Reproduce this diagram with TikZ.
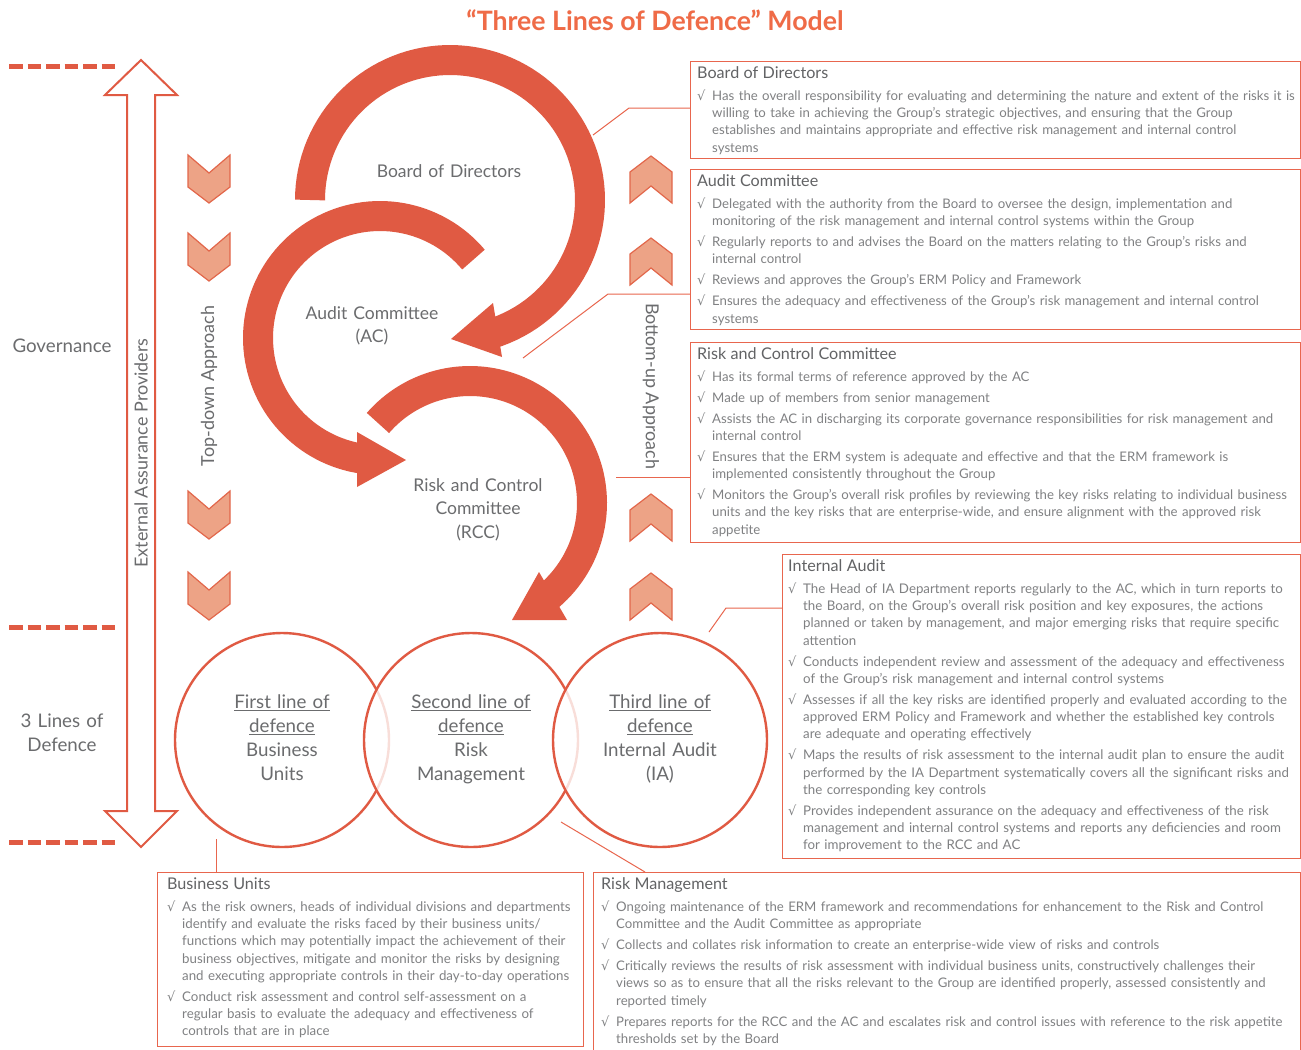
\documentclass[tikz,border=0pt]{standalone}
\usepackage{fontspec}
\setmainfont{Lato}
\newfontfamily\chkfont{DejaVu Sans}
\definecolor{arcred}{HTML}{E05A43}
\definecolor{boxred}{HTML}{E8664E}
\definecolor{chevfill}{HTML}{EDA386}
\definecolor{chevline}{HTML}{E2674B}
\definecolor{titlered}{HTML}{EF6B47}
\definecolor{labelgray}{HTML}{6B6C6E}
\definecolor{headgray}{HTML}{626365}
\definecolor{bodygray}{HTML}{808183}
\newcommand{\ckm}{\makebox[15bp][l]{\chkfont\fontsize{13}{10}\selectfont √}}
\newcommand{\indl}{\hspace*{15bp}}
\newcommand{\btl}[1]{{\fontsize{16.2}{17.35}\selectfont\color{headgray}#1}}
\newcommand{\chevdown}[1]{\draw[chev] (188,#1) -- (209,#1+18) -- (230,#1) -- (230,#1+32) -- (209,#1+48) -- (188,#1+32) -- cycle;}
\newcommand{\chevup}[1]{\draw[chev] (630,#1+16) -- (651,#1) -- (672,#1+16) -- (672,#1+47) -- (651,#1+30) -- (630,#1+47) -- cycle;}
\tikzset{
  arcband/.style={draw=arcred, line width=30bp, line cap=butt},
  headfill/.style={fill=arcred},
  chev/.style={fill=chevfill, draw=chevline, line width=1.2bp, line join=miter},
  infobox/.style={draw=boxred, line width=1.4bp, inner sep=0, anchor=north west},
  boxtext/.style={anchor=base west, inner sep=0, align=left, text width=760bp, text=bodygray, font=\fontsize{13.25}{17.35}\selectfont},
  widetext/.style={font=\fontsize{13.35}{17.35}\selectfont},
  leader/.style={draw=boxred, line width=1bp},
  dashrule/.style={draw=arcred, line width=5bp, dash pattern=on 13.5bp off 5bp},
  lbl/.style={text=labelgray, font=\fontsize{18.8}{24}\selectfont, align=center, inner sep=0, text width=220bp, anchor=base},
  clbl/.style={lbl, font=\fontsize{17.6}{24}\selectfont},
  sidelbl/.style={text=labelgray, font=\fontsize{18}{20}\selectfont, inner sep=0},
  ring/.style={circle, draw=arcred, line width=2.4bp, minimum size=214bp, inner sep=0},
}
\begin{document}
\begin{tikzpicture}[x=1bp,y=-1bp]
\useasboundingbox (0,0) rectangle (1301,1049);
\fill[white] (0,0) rectangle (1301,1049);

% title
\node[text=titlered, font=\fontsize{26.8}{29}\selectfont\bfseries, inner sep=0] (title) at (655,20) {“Three Lines of Defence” Model};

% dashed separators
\draw[dashrule] (9,66) -- (115,66);
\draw[dashrule] (9,627) -- (115,627);
\draw[dashrule] (9,842) -- (115,842);

% left labels
\node[lbl, text width=130bp] (gov) at (62,352.5) {Governance};
\node[lbl, text width=130bp] (tld) at (62,727.5) {3 Lines of\\Defence};

% hollow double arrow
\draw[draw=arcred, line width=2bp, fill=white, line join=miter]
  (141,60) -- (177,95) -- (155,95) -- (155,811) -- (177,811) -- (141,847)
  -- (105,811) -- (127,811) -- (127,95) -- (105,95) -- cycle;
\node[sidelbl, rotate=90] (eap) at (141,453) {External Assurance Providers};

% chevrons
\chevdown{155}
\chevdown{233}
\chevdown{491}
\chevdown{572}
\node[sidelbl, rotate=90] (tda) at (209,386) {Top-down Approach};
\chevup{156}
\chevup{238}
\chevup{494}
\chevup{573}
\node[sidelbl, rotate=-90] (bua) at (651,386) {Bottom-up Approach};

% curved arrows
\draw[arcband] plot[domain=-180:73, samples=90, variable=\t] ({450+140*cos(\t)},{200+140*sin(\t)});
\fill[headfill] (493,303) -- (451,339) -- (502,357) -- cycle;
\draw[arcband] plot[domain=-262:-40, samples=90, variable=\t] ({380+122*cos(\t)},{338+122*sin(\t)});
\fill[headfill] (357,432) -- (406,460) -- (357,487) -- cycle;
\draw[arcband] plot[domain=-139:51, samples=90, variable=\t] ({470+122*cos(\t)},{503+122*sin(\t)});
\fill[headfill] (539,572) -- (567,620) -- (512,620) -- cycle;

\node[clbl] (bodl) at (449,177) {Board of Directors};
\node[clbl] (acl) at (372,319) {Audit Committee\\(AC)};
\node[clbl] (rccl) at (478,491) {Risk and Control\\Committee\\(RCC)};

% circles
\node[ring, fill=white] (c1) at (282,740) {};
\node[ring, fill=white, fill opacity=0.8, draw opacity=1] (c2) at (471,740) {};
\node[ring, fill=white, fill opacity=0.8, draw opacity=1] (c3) at (660,740) {};
\node[lbl] (c1t) at (282,708.5) {\underline{First line of}\\\underline{defence}\\Business\\Units};
\node[lbl] (c2t) at (471,708.5) {\underline{Second line of}\\\underline{defence}\\Risk\\Management};
\node[lbl] (c3t) at (660,708.5) {\underline{Third line of}\\\underline{defence}\\Internal Audit\\(IA)};

% boxes
\node[infobox, minimum width=610bp, minimum height=97bp] (bod) at (690,61) {};
\node[infobox, minimum width=610bp, minimum height=160bp] (ac) at (690,169) {};
\node[infobox, minimum width=610bp, minimum height=200bp] (rcc) at (690,342) {};
\node[infobox, minimum width=518bp, minimum height=304bp] (ia) at (782,554) {};
\node[infobox, minimum width=426bp, minimum height=174bp] (bu) at (157,872) {};
\node[infobox, minimum width=707bp, minimum height=182bp] (rm) at (593,872) {};

% leader lines
\coordinate (bodP) at (690,108); \coordinate (bodK) at (629,108); \coordinate (bodE) at (593,135);
\draw[leader] (bodP) -- (bodK) -- (bodE);
\coordinate (acP) at (690,294); \coordinate (acK) at (608,294); \coordinate (acE) at (523,358);
\draw[leader] (acP) -- (acK) -- (acE);
\coordinate (rccP) at (690,477); \coordinate (rccE) at (616,477);
\draw[leader] (rccP) -- (rccE);
\coordinate (iaP) at (782,608); \coordinate (iaK) at (726,608); \coordinate (iaE) at (709,632);
\draw[leader] (iaP) -- (iaK) -- (iaE);
\coordinate (buP) at (216,872); \coordinate (buE) at (216,839);
\draw[leader] (buP) -- (buE);
\coordinate (rmP) at (645,872); \coordinate (rmE) at (561,822);
\draw[leader] (rmP) -- (rmE);

% box texts
\node[boxtext] (bodtx) at (697,78.8) {\btl{Board of Directors}\\[4.25bp]
\ckm Has the overall responsibility for evaluating and determining the nature and extent of the risks it is\\
\indl willing to take in achieving the Group’s strategic objectives, and ensuring that the Group\\
\indl establishes and maintains appropriate and effective risk management and internal control\\
\indl systems};

\node[boxtext] (actx) at (697,186.8) {\btl{Audit Committee}\\[4.25bp]
\ckm Delegated with the authority from the Board to oversee the design, implementation and\\
\indl monitoring of the risk management and internal control systems within the Group\\[3.65bp]
\ckm Regularly reports to and advises the Board on the matters relating to the Group’s risks and\\
\indl internal control\\[3.65bp]
\ckm Reviews and approves the Group’s ERM Policy and Framework\\[3.65bp]
\ckm Ensures the adequacy and effectiveness of the Group’s risk management and internal control\\
\indl systems};

\node[boxtext] (rcctx) at (697,359.8) {\btl{Risk and Control Committee}\\[4.25bp]
\ckm Has its formal terms of reference approved by the AC\\[3.65bp]
\ckm Made up of members from senior management\\[3.65bp]
\ckm Assists the AC in discharging its corporate governance responsibilities for risk management and\\
\indl internal control\\[3.65bp]
\ckm Ensures that the ERM system is adequate and effective and that the ERM framework is\\
\indl implemented consistently throughout the Group\\[3.65bp]
\ckm Monitors the Group’s overall risk profiles by reviewing the key risks relating to individual business\\
\indl units and the key risks that are enterprise-wide, and ensure alignment with the approved risk\\
\indl appetite};

\node[boxtext, widetext] (iatx) at (788,571.8) {\btl{Internal Audit}\\[4.25bp]
\ckm The Head of IA Department reports regularly to the AC, which in turn reports to\\
\indl the Board, on the Group’s overall risk position and key exposures, the actions\\
\indl planned or taken by management, and major emerging risks that require specific\\
\indl attention\\[3.65bp]
\ckm Conducts independent review and assessment of the adequacy and effectiveness\\
\indl of the Group’s risk management and internal control systems\\[3.65bp]
\ckm Assesses if all the key risks are identified properly and evaluated according to the\\
\indl approved ERM Policy and Framework and whether the established key controls\\
\indl are adequate and operating effectively\\[3.65bp]
\ckm Maps the results of risk assessment to the internal audit plan to ensure the audit\\
\indl performed by the IA Department systematically covers all the significant risks and\\
\indl the corresponding key controls\\[3.65bp]
\ckm Provides independent assurance on the adequacy and effectiveness of the risk\\
\indl management and internal control systems and reports any deficiencies and room\\
\indl for improvement to the RCC and AC};

\node[boxtext, widetext] (butx) at (167,889.8) {\btl{Business Units}\\[4.25bp]
\ckm As the risk owners, heads of individual divisions and departments\\
\indl identify and evaluate the risks faced by their business units/\\
\indl functions which may potentially impact the achievement of their\\
\indl business objectives, mitigate and monitor the risks by designing\\
\indl and executing appropriate controls in their day-to-day operations\\[3.65bp]
\ckm Conduct risk assessment and control self-assessment on a\\
\indl regular basis to evaluate the adequacy and effectiveness of\\
\indl controls that are in place};

\node[boxtext] (rmtx) at (601,889.8) {\btl{Risk Management}\\[4.25bp]
\ckm Ongoing maintenance of the ERM framework and recommendations for enhancement to the Risk and Control\\
\indl Committee and the Audit Committee as appropriate\\[3.65bp]
\ckm Collects and collates risk information to create an enterprise-wide view of risks and controls\\[3.65bp]
\ckm Critically reviews the results of risk assessment with individual business units, constructively challenges their\\
\indl views so as to ensure that all the risks relevant to the Group are identified properly, assessed consistently and\\
\indl reported timely\\[3.65bp]
\ckm Prepares reports for the RCC and the AC and escalates risk and control issues with reference to the risk appetite\\
\indl thresholds set by the Board};
\end{tikzpicture}
\end{document}
